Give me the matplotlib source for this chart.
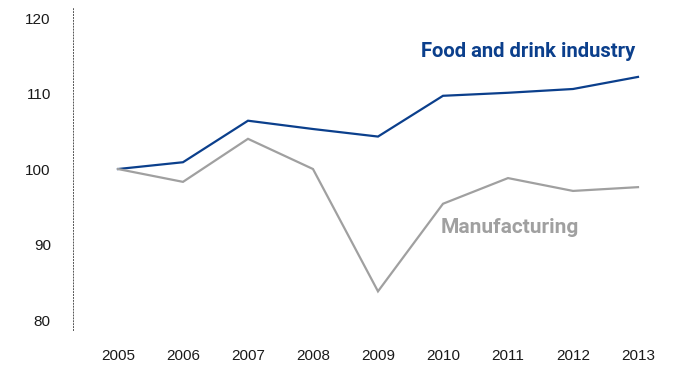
import matplotlib
matplotlib.use("Agg")
import matplotlib.pyplot as plt

years = [2005, 2006, 2007, 2008, 2009, 2010, 2011, 2012, 2013]
food_drink = [100.0, 100.9, 106.4, 105.3, 104.3, 109.7, 110.1, 110.6, 112.2]
manufacturing = [100.0, 98.3, 104.0, 100.0, 83.8, 95.4, 98.8, 97.1, 97.6]
y_ticks = [80, 90, 100, 110, 120]

navy = "#0b3f8c"
grey = "#a0a0a0"

fig = plt.figure(figsize=(6.74, 3.66), dpi=100)
ax = fig.add_axes([73 / 674, 36 / 366, 601 / 674, 323 / 366])

ax.plot(years, food_drink, color=navy, lw=1.6, solid_joinstyle="miter")
ax.plot(years, manufacturing, color=grey, lw=1.6, solid_joinstyle="miter")

ax.set_xlim(2004.308, 2013.554)
ax.set_ylim(78.68, 121.46)
ax.set_xticks(years)
ax.set_yticks(y_ticks)

for side in ["top", "right", "bottom"]:
    ax.spines[side].set_visible(False)
ax.spines["left"].set_linestyle((0, (1, 2)))
ax.spines["left"].set_linewidth(0.7)
ax.spines["left"].set_color("#555555")

ax.tick_params(axis="both", length=0, labelsize=11, colors="#1a1a1a")
ax.tick_params(axis="y", pad=16)
ax.tick_params(axis="x", pad=14)
for lbl in ax.get_xticklabels() + ax.get_yticklabels():
    lbl.set_fontfamily("Liberation Sans")

ax.text(2011.31, 115.5, "Food and drink industry", color=navy,
        fontsize=14.6, fontweight="bold", family="Roboto",
        ha="center", va="center")
ax.text(2011.03, 92.2, "Manufacturing", color=grey,
        fontsize=15.0, fontweight="bold", family="Roboto",
        ha="center", va="center")

fig.savefig("out.png", dpi=100)
